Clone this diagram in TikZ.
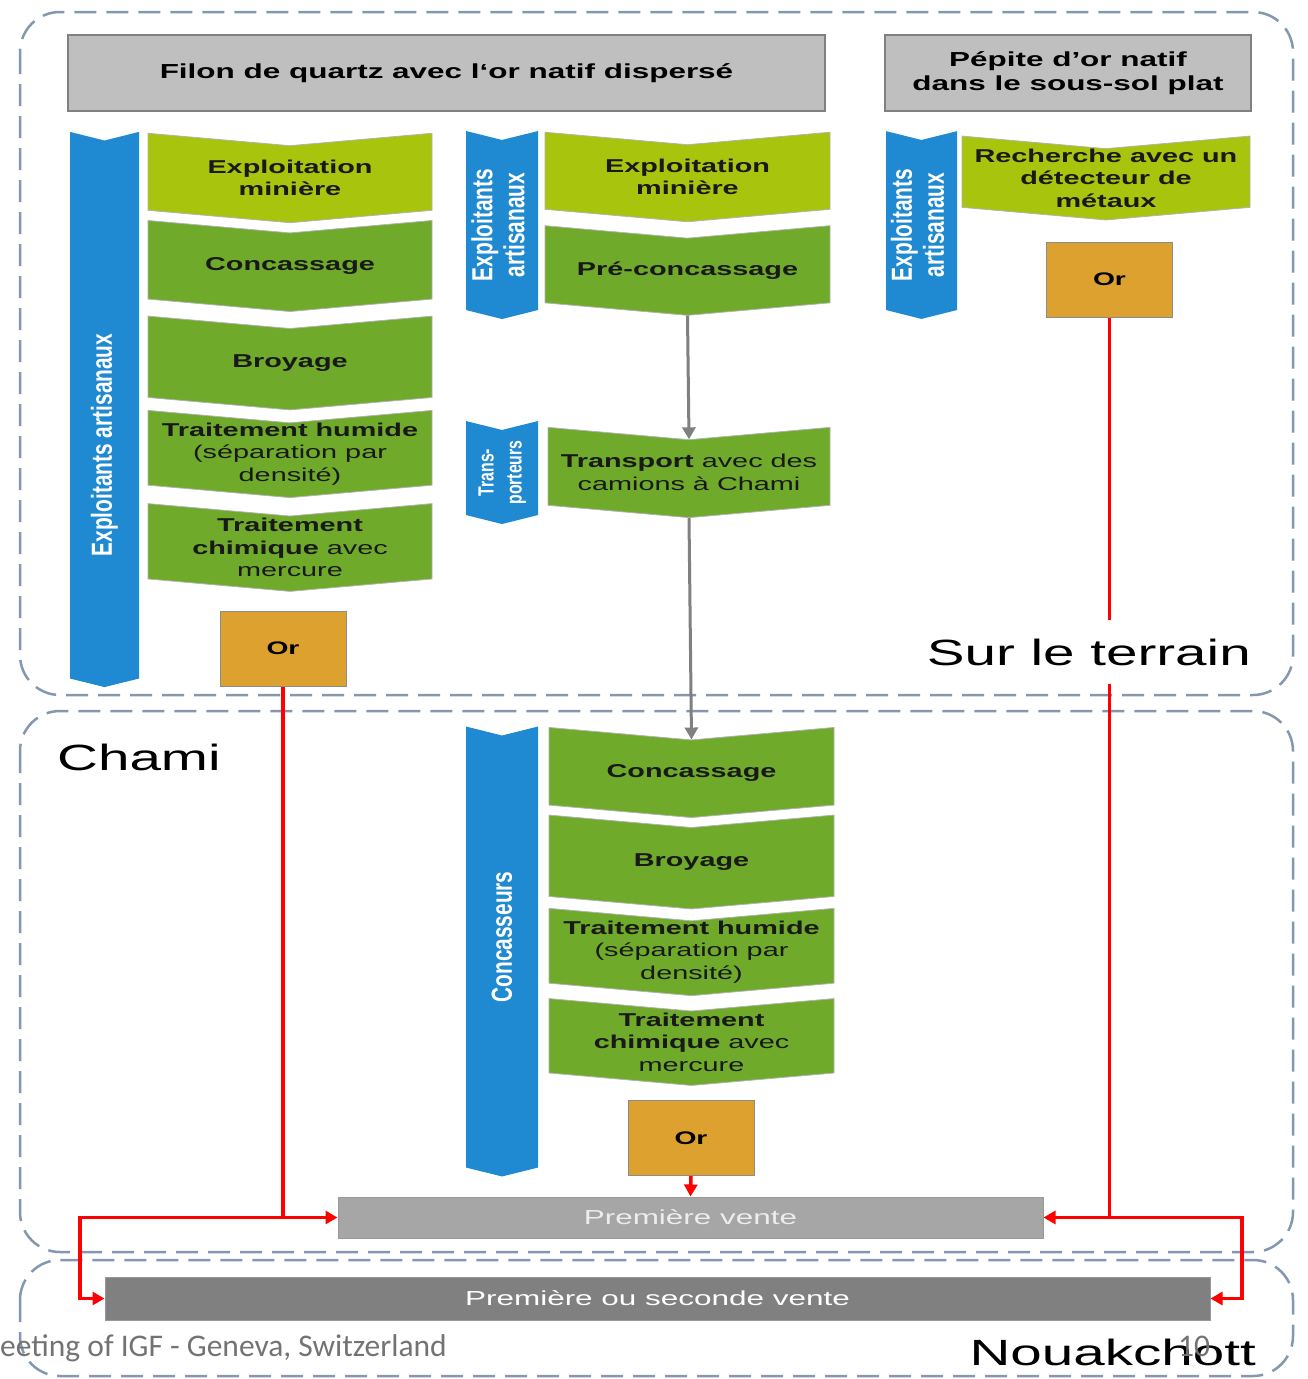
\documentclass[tikz,border=0pt]{standalone}
\usepackage{fontspec}
\setmainfont{Liberation Sans}
\newfontfamily\wide[FakeStretch=1.55]{Liberation Sans}
\newfontfamily\narrow[FakeStretch=0.72]{Liberation Sans}
\newfontfamily\foot{Carlito}
\usetikzlibrary{arrows.meta, positioning, shapes.symbols}
\definecolor{lightgreen}{HTML}{A9C40C}
\definecolor{midgreen}{HTML}{6FAA2B}
\definecolor{barblue}{HTML}{1F8AD2}
\definecolor{goldbox}{HTML}{DCA12F}
\definecolor{framegray}{HTML}{8497B0}
\definecolor{headgray}{HTML}{BFBFBF}

\begin{document}
\begin{tikzpicture}[x=1pt, y=-1pt, >={Triangle[length=12pt,width=13pt]},
    region/.style={draw=framegray, line width=2.5pt, dash pattern=on 22pt off 10pt, rounded corners=40pt},
    heading/.style={draw=black!50, line width=1.2pt, fill=headgray, align=center,
      font=\wide\bfseries\fontsize{20.3}{24.5}\selectfont},
    chev/.style={signal, signal from=north, signal to=south, signal pointer angle=170,
      draw=black!30, line width=0.8pt, fill=midgreen, inner sep=0pt, align=center,
      font=\wide\bfseries\fontsize{18.6}{22.5}\selectfont, text=black!90},
    first/.style={fill=lightgreen},
    bluebar/.style={signal, signal from=north, signal to=south, signal pointer angle=152,
      fill=barblue, draw=none, inner sep=0pt, text=white,
      font=\narrow\bfseries\fontsize{29}{32}\selectfont},
    bartext/.style={text=white, inner sep=0pt, font=\narrow\bfseries\fontsize{29}{32}\selectfont},
    orbox/.style={draw=black!45, line width=1pt, fill=goldbox, minimum width=126pt, minimum height=75pt,
      font=\wide\bfseries\fontsize{18.2}{22}\selectfont},
    vente/.style={draw=black!40, line width=1pt, font=\wide\fontsize{20.3}{24}\selectfont},
    placename/.style={inner sep=0pt, font=\wide\fontsize{36.5}{40}\selectfont},
    redline/.style={draw=red, line width=3.5pt},
    grayline/.style={draw=black!50, line width=3pt},
  ]
  \useasboundingbox[fill=white] (0,0) rectangle (1307,1379);

  % zones
  \draw[region] (20,12) rectangle (1293,695);
  \draw[region] (20,711) rectangle (1293,1252);
  \draw[region] (20,1260) rectangle (1293,1376);

  % sources
  \node[heading, minimum width=757pt, minimum height=76pt] (filon) at (446.5,73) {Filon de quartz avec l‘or natif dispersé};
  \node[heading, minimum width=366pt, minimum height=76pt] (pepite) at (1068,73) {Pépite d’or natif\\dans le sous-sol plat};

  % filiere artisanale complete
  \node[bluebar, minimum width=69pt, minimum height=538pt] (bar_1) at (104.5,409.5) {};
  \node[bartext] (bar_1_txt) at (104.5,445) {\rotatebox{90}{Exploitants artisanaux}};
  \node[chev, first, minimum width=284pt, minimum height=79pt] (expl_1) at (290,178) {Exploitation\\minière};
  \node[chev, minimum width=284pt, minimum height=81pt] (conc_1) at (290,266) {Concassage};
  \node[chev, minimum width=284pt, minimum height=79pt] (broy_1) at (290,363) {Broyage};
  \node[chev, minimum width=284pt, minimum height=79pt] (hum_1) at (290,454) {Traitement humide\\{\mdseries(séparation par}\\{\mdseries densité)}};
  \node[chev, minimum width=284pt, minimum height=80pt] (chim_1) at (290,547.5) {Traitement\\chimique {\mdseries avec}\\{\mdseries mercure}};
  \node[orbox] (or_1) at (283,648.5) {Or};

  % filiere avec concasseurs
  \node[bluebar, minimum width=72pt, minimum height=186pt] (bar_2) at (502,225) {\rotatebox{90}{\begin{tabular}{@{}c@{}}Exploitants\\artisanaux\end{tabular}}};
  \node[chev, first, minimum width=285pt, minimum height=79pt] (expl_2) at (687.5,177) {Exploitation\\minière};
  \node[chev, minimum width=285pt, minimum height=84pt] (pre_2) at (687.5,270.5) {Pré-concassage};
  \node[bluebar, minimum width=72pt, minimum height=99pt, font=\narrow\bfseries\fontsize{22}{28}\selectfont] (bar_t) at (502,472.5) {\rotatebox{90}{\begin{tabular}{@{}c@{}}Trans-\\porteurs\end{tabular}}};
  \node[chev, minimum width=282pt, minimum height=88pt] (transp) at (689,472.5) {Transport {\mdseries avec des}\\{\mdseries camions à Chami}};
  \node[bluebar, minimum width=72pt, minimum height=432pt] (bar_c) at (502,951.5) {};
  \node[bartext] (bar_c_txt) at (502,937) {\rotatebox{90}{Concasseurs}};
  \node[chev, minimum width=285pt, minimum height=80pt] (conc_2) at (691.5,772.5) {Concassage};
  \node[chev, minimum width=285pt, minimum height=79pt] (broy_2) at (691.5,862) {Broyage};
  \node[chev, minimum width=285pt, minimum height=79pt] (hum_2) at (691.5,952) {Traitement humide\\{\mdseries(séparation par}\\{\mdseries densité)}};
  \node[chev, minimum width=285pt, minimum height=79pt] (chim_2) at (691.5,1042) {Traitement\\chimique {\mdseries avec}\\{\mdseries mercure}};
  \node[orbox] (or_2) at (691,1138) {Or};

  % pepites
  \node[bluebar, minimum width=71pt, minimum height=186pt] (bar_3) at (921.5,225) {\rotatebox{90}{\begin{tabular}{@{}c@{}}Exploitants\\artisanaux\end{tabular}}};
  \node[chev, first, minimum width=288pt, minimum height=79pt] (rech) at (1106,178) {Recherche avec un\\détecteur de\\métaux};
  \node[orbox] (or_3) at (1109.5,279.5) {Or};

  % ventes
  \node[vente, fill=black!35, text=black!7, minimum width=705pt, minimum height=41pt] (vente_1) at (690.5,1217.5) {Première vente};
  \node[vente, fill=black!50, text=white, minimum width=1105pt, minimum height=43pt] (vente_2) at (657.5,1298.5) {Première ou seconde vente};

  % lieux
  \node[placename, anchor=base east, inner ysep=18pt] (terrain) at (1251,665) {Sur le terrain};
  \node[placename, anchor=base west] (chami) at (57,770) {Chami};
  \node[placename, anchor=base east] (nouak) at (1256,1365) {Nouakchott};

  % flux de minerai
  \draw[grayline,->] (pre_2.south) -- (transp.north);
  \draw[grayline,->] (transp.south) -- (conc_2.north);

  % flux d'or
  \coordinate (lbend) at (80,1217.5);
  \coordinate (rbend) at (1242,1217.5);
  \draw[redline,->] (or_1.south) |- (vente_1.west);
  \draw[redline,->] (or_1.south |- vente_1.west) -- (lbend) |- (vente_2.west);
  \draw[redline,->] (or_2.south) -- (vente_1.north);
  \draw[redline] (or_3.south) -- (or_3.south |- terrain.north);
  \draw[redline,->] (or_3.south |- terrain.south) |- (vente_1.east);
  \draw[redline,->] (or_3.south |- vente_1.east) -- (rbend) |- (vente_2.east);

  % pied de page
  \node[font=\foot\fontsize{31.5}{34}\selectfont, text=black!55, anchor=base west, inner sep=0pt] (footer) at (0,1356) {eeting of IGF - Geneva, Switzerland};
  \node[font=\foot\fontsize{31.5}{34}\selectfont, text=black!55, anchor=base west, inner sep=0pt] (pagenum) at (1178,1356) {10};
\end{tikzpicture}
\end{document}
